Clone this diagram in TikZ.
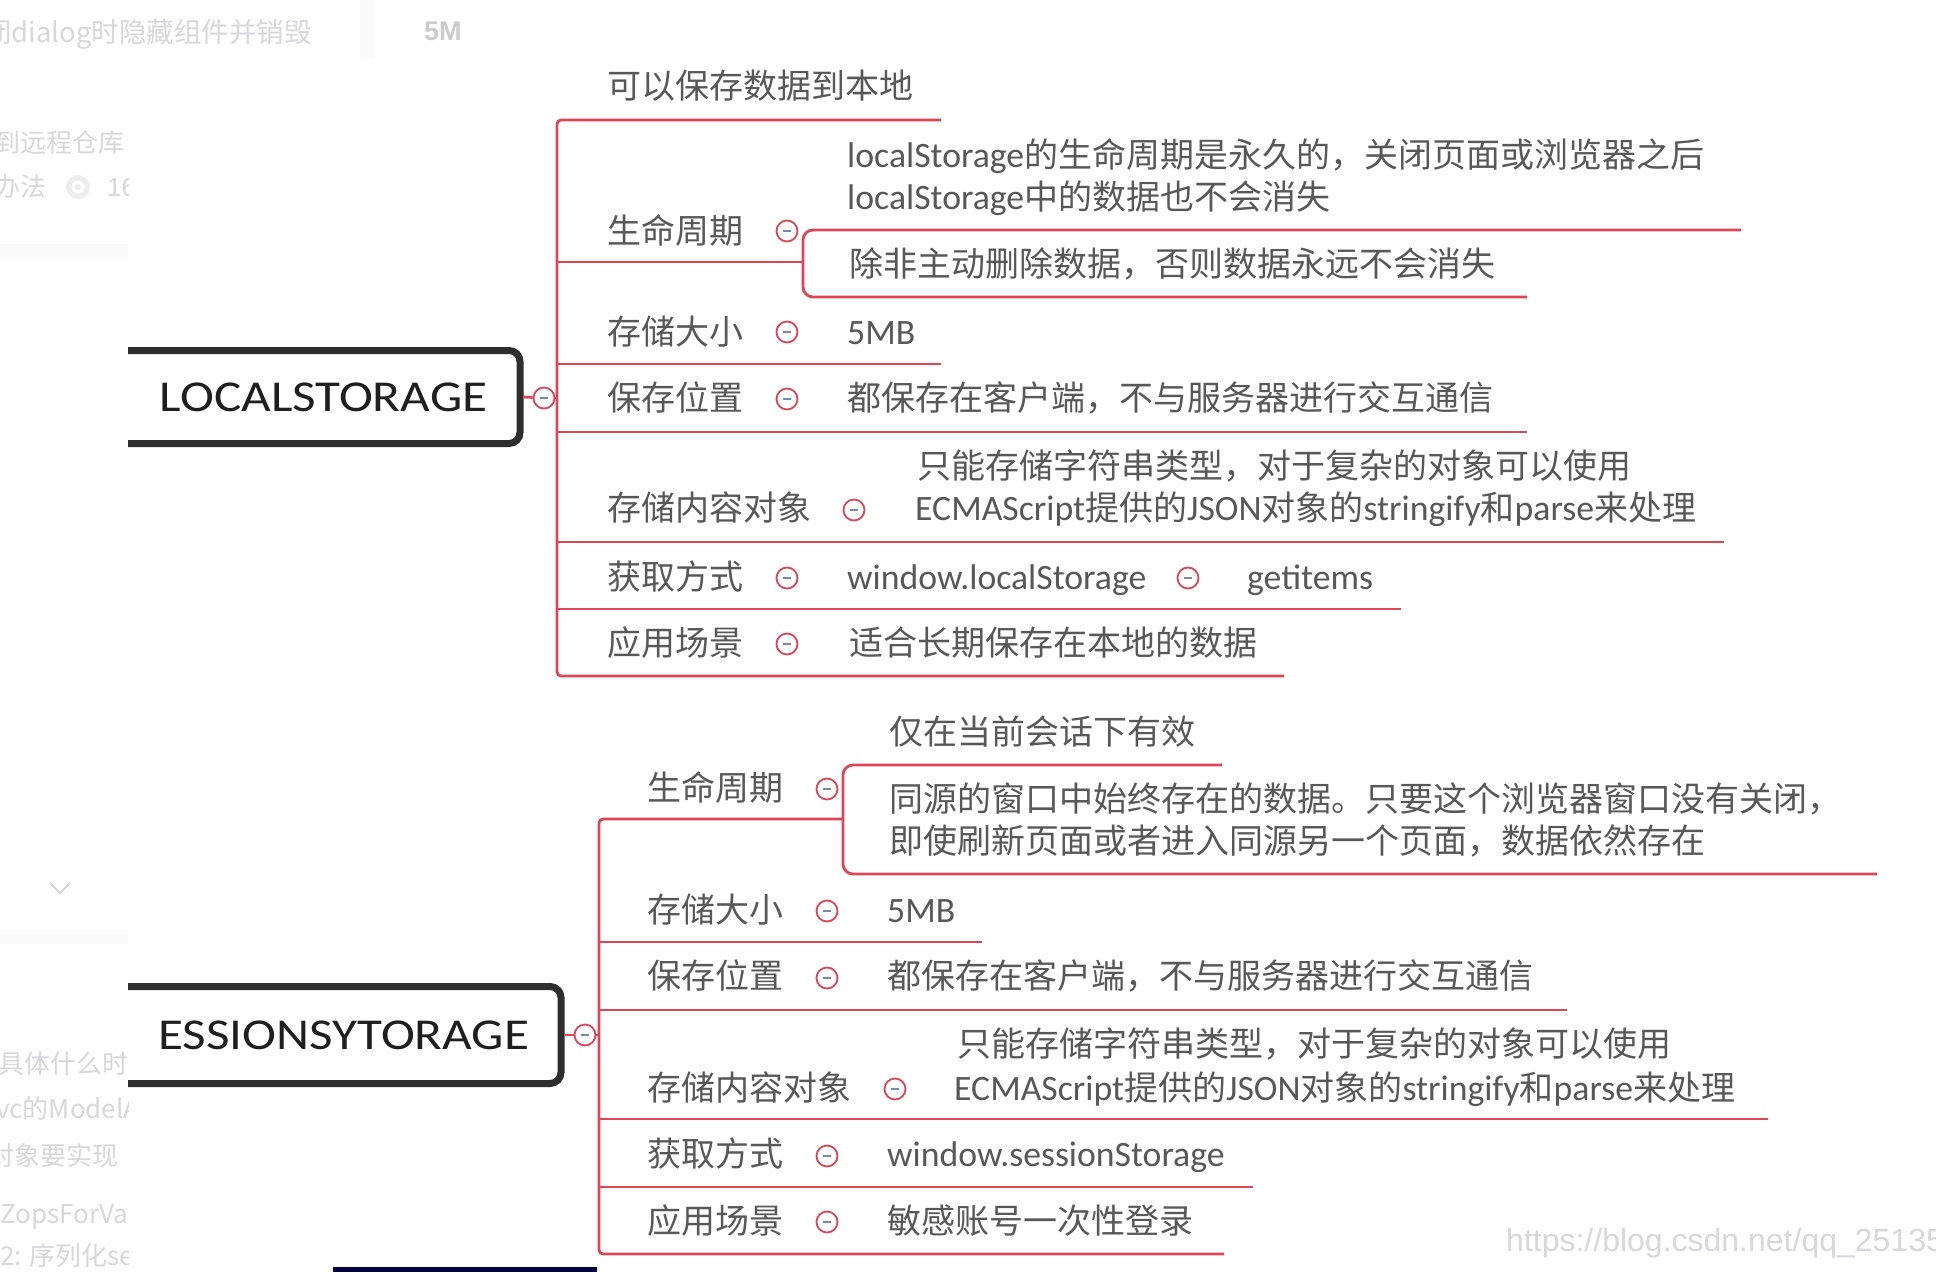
\documentclass[tikz,border=0pt]{standalone}
\usepackage{fontspec}
\usepackage{graphicx}
\usetikzlibrary{positioning, backgrounds}
\setmainfont{Noto Sans CJK SC}
\newfontfamily\lat[Scale=1.05]{Carlito}
\newfontfamily\arial{Liberation Sans}

\definecolor{rosso}{RGB}{222,70,88}
\definecolor{testo}{RGB}{88,88,88}
\definecolor{grigino}{RGB}{216,216,220}
\definecolor{meno}{RGB}{120,135,175}

\tikzset{
    radice/.style={draw=black!82, line width=7pt, rounded corners=11pt, fill=white, inner sep=0pt, anchor=east},
    titolo/.style={inner sep=0pt, text=black!88, font=\lat\fontsize{42}{50}\selectfont},
    voce/.style={anchor=base west, inner sep=0pt, text=testo, font=\fontsize{34}{42}\selectfont},
    fondo/.style={anchor=base west, inner sep=0pt, text=grigino, font=\fontsize{26}{30}\selectfont},
    ramo/.style={draw=rosso, line width=2.8pt},
    bottone/.style={circle, draw=rosso, line width=1.8pt, fill=white, minimum size=21pt, inner sep=0pt,
        path picture={\draw[meno, line width=1.8pt] ([xshift=-4pt]path picture bounding box.center) -- ([xshift=4pt]path picture bounding box.center);}}
}

\begin{document}
\begin{tikzpicture}[x=1pt, y=-1pt]

        % -----------------------------------------------------------------
        % SFONDO
        % -----------------------------------------------------------------
        \fill[white] (0,0) rectangle (1936,1272);
        \useasboundingbox (0,0) rectangle (1936,1272);

        % -----------------------------------------------------------------
        % PAGINA SBIADITA A SINISTRA
        % -----------------------------------------------------------------
        \fill[black!2] (360,0) rectangle (374,58);
        \node[fondo, font=\fontsize{27.5}{30}\selectfont] (f1) at (-16,42) {闭dialog时隐藏组件并销毁};
        \node[fondo, font=\arial\bfseries\fontsize{27}{30}\selectfont, text=black!20] (f10) at (424,40) {5M};
        \begin{scope}
            \clip (0,0) rectangle (128,1272);
            \node[fondo] (f2) at (-6,152) {到远程仓库};
            \node[fondo] (f3) at (-6,196) {办法};
            \fill[black!7] (78,187) circle (12);
            \fill[white] (78,187) circle (6.5);
            \fill[black!7] (78,187) circle (3);
            \node[fondo, font=\arial\fontsize{26}{30}\selectfont] (f4) at (107,196) {16};
            \fill[black!2] (0,244) rectangle (128,258);
            \draw[grigino, line width=2pt] (50,883) -- (60,893) -- (70,883);
            \fill[black!2] (0,930) rectangle (128,944);
            \node[fondo] (f5) at (-2,1073) {具体什么时};
            \node[fondo] (f6) at (-4,1118) {vc的ModelA};
            \node[fondo] (f7) at (-12,1165) {对象要实现};
            \node[fondo] (f8) at (0,1223) {ZopsForVal};
            \node[fondo] (f9) at (0,1265) {2: 序列化se};
        \end{scope}

        \begin{scope}
        \clip (128,0) rectangle (1936,1272);

        % -----------------------------------------------------------------
        % LOCALSTORAGE
        % -----------------------------------------------------------------
        \node[radice, minimum width=500pt, minimum height=93pt] (lsBox) at (523.5,397) {};
        \node[titolo, left=36pt of lsBox.east] (lsRoot) {\scalebox{1.16}[1]{LOCALSTORAGE}};
        \node[bottone] (lsB0) at (544,398) {};
        \coordinate (lsTr) at (557,398);
        \draw[ramo] (lsBox.east) -- (lsB0);
        \draw[ramo] (lsB0) -- (lsTr);

        \coordinate (lsTop) at (941,120);
        \coordinate (lsBot) at (1284,676);
        \draw[ramo, rounded corners=4pt] (lsTop) -| (lsTr) |- (lsBot);

        \node[voce] (lsT1) at (607,98) {可以保存数据到本地};

        %生命周期
        \node[voce] (lsL1) at (607,243) {生命周期};
        \node[bottone] (lsB1) at (787,231) {};
        \coordinate (lsG) at (803,262);
        \coordinate (lsE1a) at (1741,230);
        \coordinate (lsE1b) at (1527,297);
        \draw[ramo] (lsTr |- lsG) -- (lsG);
        \draw[ramo, rounded corners=10pt] (lsE1a) -| (lsG) |- (lsE1b);
        \node[voce] (lsV1a) at (847,167) {{\lat localStorage}的生命周期是永久的，关闭页面或浏览器之后};
        \node[voce] (lsV1b) at (847,209) {{\lat localStorage}中的数据也不会消失};
        \node[voce] (lsV1c) at (849,276) {除非主动删除数据，否则数据永远不会消失};

        % 存储大小
        \node[voce] (lsL2) at (607,344) {存储大小};
        \node[bottone] (lsB2) at (787,332) {};
        \node[voce] (lsV2) at (847,344) {\lat 5MB};
        \coordinate (lsE2) at (941,364);
        \draw[ramo] (lsTr |- lsE2) -- (lsE2);

        % 保存位置
        \node[voce] (lsL3) at (607,410) {保存位置};
        \node[bottone] (lsB3) at (787,399) {};
        \node[voce] (lsV3) at (847,410) {都保存在客户端，不与服务器进行交互通信};
        \coordinate (lsE3) at (1527,432);
        \draw[ramo] (lsTr |- lsE3) -- (lsE3);

        % 存储内容对象
        \node[voce] (lsL4) at (607,520) {存储内容对象};
        \node[bottone] (lsB4) at (854,510) {};
        \node[voce] (lsV4a) at (917,478) {只能存储字符串类型，对于复杂的对象可以使用};
        \node[voce] (lsV4b) at (915,520) {{\lat ECMAScript}提供的{\lat JSON}对象的{\lat stringify}和{\lat parse}来处理};
        \coordinate (lsE4) at (1724,542);
        \draw[ramo] (lsTr |- lsE4) -- (lsE4);

        % 获取方式
        \node[voce] (lsL5) at (607,589) {获取方式};
        \node[bottone] (lsB5) at (787,578) {};
        \node[voce] (lsV5) at (847,589) {\lat window.localStorage};
        \node[bottone] (lsB5b) at (1188,578) {};
        \node[voce] (lsV5b) at (1247,589) {\lat getitems};
        \coordinate (lsE5) at (1401,609);
        \draw[ramo] (lsTr |- lsE5) -- (lsE5);

        % 应用场景
        \node[voce] (lsL6) at (607,655) {应用场景};
        \node[bottone] (lsB6) at (787,644) {};
        \node[voce] (lsV6) at (849,655) {适合长期保存在本地的数据};

        % -----------------------------------------------------------------
        % ESSIONSYTORAGE
        % -----------------------------------------------------------------
        \node[radice, minimum width=540pt, minimum height=97pt] (ssBox) at (564.5,1035) {};
        \node[titolo, left=35pt of ssBox.east] (ssRoot) {\scalebox{1.16}[1]{ESSIONSYTORAGE}};
        \node[bottone] (ssB0) at (585,1035) {};
        \coordinate (ssTr) at (599,1035);
        \draw[ramo] (ssBox.east) -- (ssB0);
        \draw[ramo] (ssB0) -- (ssTr);

        \coordinate (ssG) at (843,819);
        \coordinate (ssBot) at (1224,1254);
        \draw[ramo, rounded corners=4pt] (ssG) -| (ssTr) |- (ssBot);

        % 生命周期
        \node[voce] (ssL1) at (647,800) {生命周期};
        \node[bottone] (ssB1) at (827,789) {};
        \coordinate (ssE1a) at (1222,765);
        \coordinate (ssE1b) at (1877,874);
        \draw[ramo, rounded corners=10pt] (ssE1a) -| (ssG) |- (ssE1b);
        \node[voce] (ssV1a) at (889,744) {仅在当前会话下有效};
        \node[voce] (ssV1b) at (889,811) {同源的窗口中始终存在的数据。只要这个浏览器窗口没有关闭，};
        \node[voce] (ssV1c) at (889,853) {即使刷新页面或者进入同源另一个页面，数据依然存在};

        % 存储大小
        \node[voce] (ssL2) at (647,922) {存储大小};
        \node[bottone] (ssB2) at (827,911) {};
        \node[voce] (ssV2) at (887,922) {\lat 5MB};
        \coordinate (ssE2) at (982,942);
        \draw[ramo] (ssTr |- ssE2) -- (ssE2);

        % 保存位置
        \node[voce] (ssL3) at (647,988) {保存位置};
        \node[bottone] (ssB3) at (827,978) {};
        \node[voce] (ssV3) at (887,988) {都保存在客户端，不与服务器进行交互通信};
        \coordinate (ssE3) at (1567,1010);
        \draw[ramo] (ssTr |- ssE3) -- (ssE3);

        % 存储内容对象
        \node[voce] (ssL4) at (647,1100) {存储内容对象};
        \node[bottone] (ssB4) at (895,1089) {};
        \node[voce] (ssV4a) at (957,1056) {只能存储字符串类型，对于复杂的对象可以使用};
        \node[voce] (ssV4b) at (954,1100) {{\lat ECMAScript}提供的{\lat JSON}对象的{\lat stringify}和{\lat parse}来处理};
        \coordinate (ssE4) at (1768,1119);
        \draw[ramo] (ssTr |- ssE4) -- (ssE4);

        % 获取方式
        \node[voce] (ssL5) at (647,1166) {获取方式};
        \node[bottone] (ssB5) at (827,1156) {};
        \node[voce] (ssV5) at (887,1166) {\lat window.sessionStorage};
        \coordinate (ssE5) at (1253,1187);
        \draw[ramo] (ssTr |- ssE5) -- (ssE5);

        % 应用场景
        \node[voce] (ssL6) at (647,1233) {应用场景};
        \node[bottone] (ssB6) at (827,1222) {};
        \node[voce] (ssV6) at (887,1233) {敏感账号一次性登录};
        \end{scope}

        % -----------------------------------------------------------------
        % FILIGRANA E BORDO
        % -----------------------------------------------------------------
        \node[fondo, font=\arial\fontsize{32}{36}\selectfont] (wm) at (1506,1251) {https://blog.csdn.net/qq\_25135};
        \fill[black!75!blue] (333,1267) rectangle (597,1272);

\end{tikzpicture}
\end{document}
